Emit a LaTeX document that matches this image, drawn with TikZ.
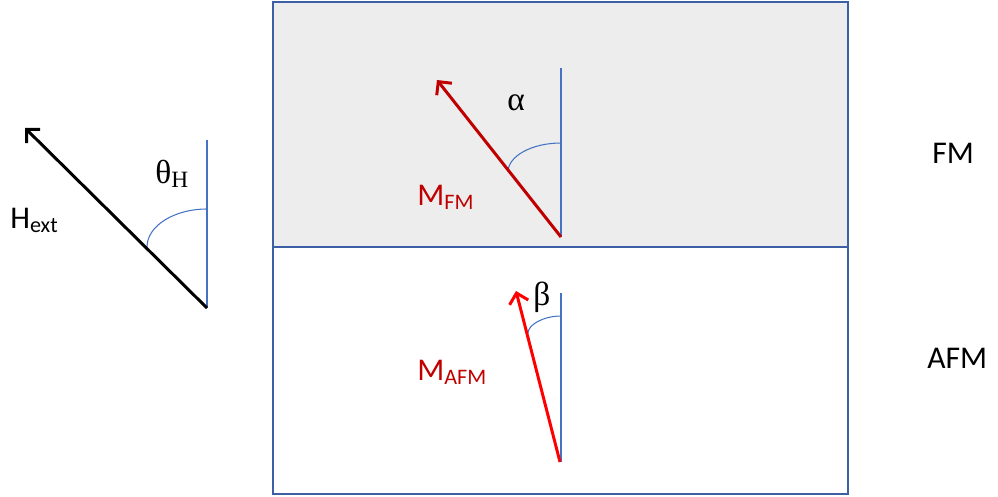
\documentclass[tikz,border=0pt]{standalone}
\usepackage{fontspec}
\setmainfont{Carlito}
\newfontfamily\greekfont{Liberation Serif}
\usetikzlibrary{arrows.meta}
\definecolor{axisblue}{RGB}{68,114,196}
\definecolor{frameblue}{RGB}{60,95,165}
\definecolor{fmred}{RGB}{192,0,0}
\definecolor{afmred}{RGB}{255,0,0}
\definecolor{fmgray}{RGB}{237,237,237}
\begin{document}
\begin{tikzpicture}[x=0.02cm,y=-0.02cm,
  axis/.style={axisblue,line width=0.6pt},
  vec/.style={line width=1.7pt,-{Straight Barb[length=5.5pt,width=11pt,line width=1.7pt]}},
  lbl/.style={anchor=base west,inner sep=0pt,font=\fontsize{18}{21}\selectfont},
  glbl/.style={lbl,font=\fontsize{19}{22}\selectfont\greekfont}]
  \useasboundingbox (0,0) rectangle (998,497);
  % Layers
  \fill[fmgray] (273,2) rectangle (848,247);
  \draw[frameblue,line width=0.8pt] (273,2) rectangle (848,494);
  \draw[frameblue,line width=0.8pt] (273,247) -- (848,247);
  % External field
  \coordinate (h0) at (207,308);
  \coordinate (h1) at (25,128);
  \draw[axis] (h0) -- (207,140);
  \draw[axis] (207,209) .. controls (174,209) and (147,226) .. (147,247);
  \draw[vec,black] (h0) -- (h1);
  \node[lbl] (hext) at (10,228) {H\textsubscript{ext}};
  \node[glbl] (thetah) at (155,183) {θ\textsubscript{H}};
  % FM layer
  \coordinate (f0) at (561,237);
  \coordinate (f1) at (437,80);
  \draw[axis] (f0) -- (561,68);
  \draw[axis] (561,143) .. controls (532,143) and (508,156) .. (508,172);
  \draw[vec,fmred] (f0) -- (f1);
  \node[glbl] (alpha) at (507,110) {α};
  \node[lbl,fmred] (mfm) at (417,205) {M\textsubscript{FM}};
  % AFM layer
  \coordinate (a0) at (560,462);
  \coordinate (a1) at (516,291);
  \draw[axis] (561,462) -- (561,293);
  \draw[axis] (561,316) .. controls (543,316) and (528,325) .. (528,333);
  \draw[vec,afmred] (a0) -- (a1);
  \node[glbl] (beta) at (533,305) {β};
  \node[lbl,fmred] (mafm) at (417,380) {M\textsubscript{AFM}};
  % Layer names
  \node[lbl] (fm) at (932,163) {FM};
  \node[lbl] (afm) at (927,368) {AFM};
\end{tikzpicture}
\end{document}
